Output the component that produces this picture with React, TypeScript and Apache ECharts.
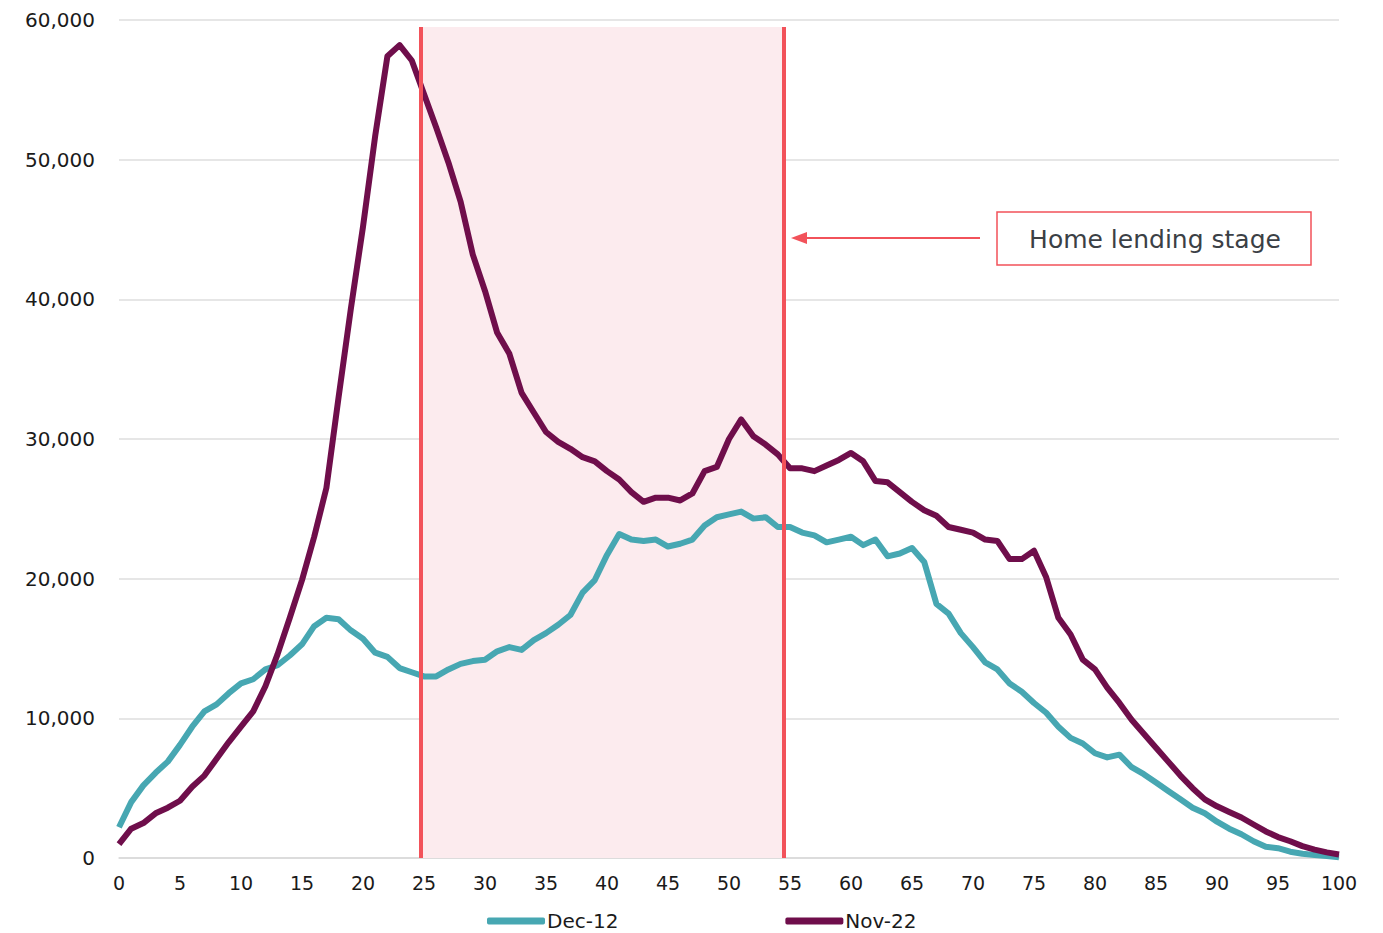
import React, { useEffect, useRef } from "react";
import * as echarts from "echarts";

const ages: number[] = Array.from({ length: 101 }, (_, i) => i);

const dec12: number[] = [
  2200, 4000, 5200, 6100, 6900, 8100, 9400, 10500, 11000, 11800,
  12500, 12800, 13500, 13800, 14500, 15300, 16600, 17200, 17100, 16300,
  15700, 14700, 14400, 13600, 13300, 13000, 13000, 13500, 13900, 14100,
  14200, 14800, 15100, 14900, 15600, 16100, 16700, 17400, 19000, 19900,
  21700, 23200, 22800, 22700, 22800, 22300, 22500, 22800, 23800, 24400,
  24600, 24800, 24300, 24400, 23700, 23700, 23300, 23100, 22600, 22800,
  23000, 22400, 22800, 21600, 21800, 22200, 21200, 18200, 17500, 16100,
  15100, 14000, 13500, 12500, 11900, 11100, 10400, 9400, 8600, 8200,
  7500, 7200, 7400, 6500, 6000, 5400, 4800, 4200, 3600, 3200,
  2600, 2100, 1700, 1200, 800, 700, 450, 300, 220, 150,
  50,
];

const nov22: number[] = [
  1000, 2100, 2500, 3200, 3600, 4100, 5100, 5900, 7100, 8300,
  9400, 10500, 12300, 14600, 17200, 19900, 23000, 26500, 33000, 39300,
  45200, 51700, 57400, 58200, 57100, 54700, 52300, 49800, 47000, 43200,
  40600, 37600, 36100, 33300, 31900, 30500, 29800, 29300, 28700, 28400,
  27700, 27100, 26200, 25500, 25800, 25800, 25600, 26100, 27700, 28000,
  30000, 31400, 30200, 29600, 28900, 27900, 27900, 27700, 28100, 28500,
  29000, 28400, 27000, 26900, 26200, 25500, 24900, 24500, 23700, 23500,
  23300, 22800, 22700, 21400, 21400, 22000, 20100, 17200, 16000, 14200,
  13500, 12200, 11100, 9900, 8900, 7900, 6900, 5900, 5000, 4200,
  3700, 3300, 2900, 2400, 1900, 1500, 1200, 850, 600, 400,
  250,
];

const seriesNames: string[] = ["Dec-12", "Nov-22"];
const stageRange: number[] = [24.75, 54.45];
const stageTop = 59500;
const annotationText = "Home lending stage";

const FONT = "DejaVu Sans";

export default function App() {
  const ref = useRef<HTMLDivElement>(null);

  useEffect(() => {
    if (!ref.current) return;
    const chart = echarts.init(ref.current, null, { renderer: "svg" });
    const toPairs = (vals: number[]) => vals.map((v, i) => [ages[i], v]);
    chart.setOption({
      animation: false,
      backgroundColor: "#ffffff",
      grid: { left: 119, right: 44, top: 20, bottom: 75, containLabel: false },
      legend: {
        data: seriesNames,
        left: 482,
        top: 906,
        icon: "roundRect",
        itemWidth: 58,
        itemHeight: 7,
        itemGap: 167,
        textStyle: { fontFamily: FONT, fontSize: 20, color: "#1a1a1a", padding: [0, 0, 0, -3] },
      },
      xAxis: {
        type: "value",
        min: 0,
        max: 100,
        interval: 5,
        axisLine: { show: true, lineStyle: { color: "#d9d9d9", width: 1.5 } },
        axisTick: { show: false },
        splitLine: { show: false },
        axisLabel: { fontFamily: FONT, fontSize: 19, color: "#1a1a1a", margin: 15 },
      },
      yAxis: {
        type: "value",
        min: 0,
        max: 60000,
        interval: 10000,
        axisLine: { show: false },
        axisTick: { show: false },
        splitLine: { lineStyle: { color: "#dedede", width: 1.5 } },
        axisLabel: {
          fontFamily: FONT,
          fontSize: 20,
          color: "#1a1a1a",
          margin: 24,
          formatter: (v: number) => v.toLocaleString("en-US"),
        },
      },
      series: [
        {
          name: seriesNames[0],
          type: "line",
          data: toPairs(dec12),
          showSymbol: false,
          symbol: "none",
          lineStyle: { color: "#47a7b2", width: 6, join: "round" },
          itemStyle: { color: "#47a7b2" },
          z: 3,
          markArea: {
            silent: true,
            itemStyle: { color: "#fcebee" },
            data: [[{ coord: [stageRange[0], 0] }, { coord: [stageRange[1], stageTop] }]],
            z: 1,
          },
        },
        {
          name: seriesNames[1],
          type: "line",
          data: toPairs(nov22),
          showSymbol: false,
          symbol: "none",
          lineStyle: { color: "#6f0e4b", width: 6, join: "round" },
          itemStyle: { color: "#6f0e4b" },
          z: 4,
          markLine: {
            silent: true,
            symbol: ["none", "none"],
            label: { show: false },
            lineStyle: { color: "#f2525a", width: 4, type: "solid" },
            data: [
              [{ coord: [stageRange[0], 0] }, { coord: [stageRange[0], stageTop] }],
              [{ coord: [stageRange[1], 0] }, { coord: [stageRange[1], stageTop] }],
            ],
            z: 5,
          },
        },
      ],
      graphic: [
        {
          type: "rect",
          shape: { x: 997, y: 212, width: 314, height: 53 },
          style: { fill: "#ffffff", stroke: "#f2525a", lineWidth: 1.5 },
          z: 10,
        },
        {
          type: "text",
          x: 1155,
          y: 239,
          style: {
            text: annotationText,
            fontFamily: FONT,
            fontSize: 25,
            fill: "#3b4045",
            align: "center",
            verticalAlign: "middle",
          },
          z: 11,
        },
        {
          type: "line",
          shape: { x1: 980, y1: 238, x2: 805, y2: 238 },
          style: { stroke: "#f2525a", lineWidth: 2 },
          z: 10,
        },
        {
          type: "polygon",
          shape: { points: [[791, 238], [807, 232], [807, 244]] },
          style: { fill: "#f2525a" },
          z: 10,
        },
      ],
    });
    return () => chart.dispose();
  }, []);

  return (
    <div
      ref={ref}
      style={{ position: "fixed", left: 0, top: 0, width: 1383, height: 933 }}
    />
  );
}
